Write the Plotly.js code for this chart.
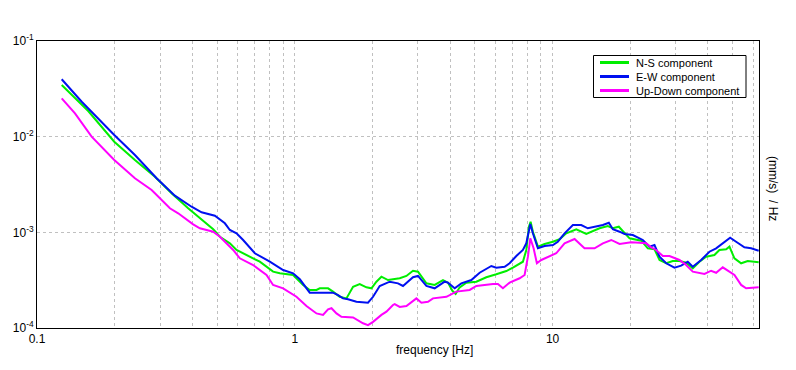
<!DOCTYPE html>
<html>
<head>
<meta charset="utf-8">
<script src="https://cdn.plot.ly/plotly-3.0.1.min.js"></script>
<style>html,body{margin:0;padding:0;background:#fff;}#chart{width:796px;height:370px;}</style>
</head>
<body>
<div id="chart"></div>
<script>
// N-S component
const nsFreq = [0.1247,0.1446,0.158,0.1994,0.2398,0.2867,0.3326,0.3858,0.4548,0.4825,0.5122,0.5599,0.5943,0.6693,0.7316,0.8239,0.8747,0.985,1.077,1.143,1.214,1.25,1.346,1.407,1.494,1.586,1.683,1.786,1.896,1.983,2.073,2.168,2.267,2.299,2.553,2.71,2.874,3.006,3.24,3.488,3.757,3.928,4.086,4.207,4.36,4.629,5.062,5.534,6.049,6.615,7.018,7.672,7.909,8.094,8.217,8.387,8.77,9.311,10.03,10.64,11.30,12.36,13.51,15.21,16.38,17.13,18.07,19.02,19.89,22.07,23.41,24.85,25.99,27.59,29.26,31.06,32.97,34.98,37.13,39.41,42.44,44.38,47.13,48.53,50.75,53.87,57.15,63.04];
const nsVal = [0.03467,0.0232,0.01855,0.00886,0.005703,0.003815,0.002559,0.001783,0.001243,0.001076,0.0009,0.000768,0.000654,0.000556,0.000493,0.000388,0.000373,0.000358,0.000282,0.00025,0.00025,0.00026,0.00026,0.00024,0.000212,0.000204,0.00027,0.000288,0.000266,0.00026,0.000305,0.000344,0.000323,0.000317,0.000331,0.00035,0.000397,0.000388,0.000293,0.000282,0.000317,0.000298,0.000245,0.000227,0.000266,0.000298,0.000305,0.000339,0.000364,0.000394,0.000427,0.000493,0.000654,0.001145,0.001291,0.001015,0.000708,0.000755,0.000798,0.000846,0.000977,0.001076,0.000961,0.001102,0.001165,0.001102,0.001145,0.000977,0.000866,0.000818,0.000681,0.000665,0.000514,0.000475,0.000502,0.000502,0.000482,0.000421,0.000493,0.000556,0.000579,0.000654,0.000665,0.000708,0.000535,0.000475,0.000502,0.000486];

// E-W component
const ewFreq = [0.1247,0.1491,0.1994,0.2398,0.2911,0.3426,0.3977,0.4349,0.4898,0.5356,0.5599,0.5943,0.6304,0.6998,0.8,0.901,0.985,1.046,1.143,1.407,1.472,1.539,1.609,1.734,1.923,2.012,2.135,2.335,2.514,2.629,2.874,3.006,3.24,3.488,3.814,3.928,4.171,4.427,4.841,5.213,5.786,6.049,6.516,6.813,7.234,7.672,7.909,8.094,8.196,8.387,8.77,9.311,10.03,10.48,11.13,11.99,12.92,13.70,14.33,15.67,16.53,17.13,18.19,19.02,20.47,22.39,23.77,24.85,25.99,27.59,29.71,31.53,33.45,34.98,37.70,40.59,43.10,45.72,48.84,51.52,55.48,58.91,63.04];
const ewVal = [0.0398,0.0232,0.01041,0.006433,0.003671,0.002415,0.001853,0.00162,0.001492,0.001243,0.001058,0.000977,0.000832,0.000604,0.000493,0.000404,0.000373,0.000323,0.000234,0.000234,0.000221,0.000204,0.0002,0.000188,0.000184,0.000212,0.000275,0.000305,0.000293,0.000275,0.000339,0.00035,0.000275,0.00026,0.000305,0.000298,0.00026,0.000293,0.000317,0.000378,0.000445,0.000427,0.000437,0.000475,0.000566,0.000654,0.000768,0.001058,0.001222,0.000977,0.000681,0.00072,0.000737,0.000798,0.000977,0.001193,0.001193,0.001102,0.001129,0.001193,0.001261,0.001076,0.001015,0.000961,0.000938,0.000832,0.000708,0.000737,0.000556,0.000475,0.000427,0.000448,0.000493,0.000437,0.000514,0.000627,0.000681,0.000768,0.000879,0.000798,0.000697,0.000681,0.000643];

// Up-Down component
const udFreq = [0.1247,0.1404,0.1629,0.1994,0.2398,0.2784,0.3277,0.3529,0.4035,0.4283,0.4825,0.5122,0.5767,0.612,0.6893,0.7767,0.8239,0.901,1.015,1.11,1.214,1.287,1.346,1.388,1.451,1.517,1.683,1.839,1.923,2.012,2.168,2.267,2.404,2.441,2.553,2.71,2.963,3.098,3.286,3.436,3.873,4.234,4.768,5.062,5.869,6.137,6.418,6.813,7.45,7.79,8.023,8.196,8.441,8.692,9.04,9.737,10.33,11.13,12.17,13.30,14.55,15.67,16.89,18.19,19.31,20.18,21.74,23.08,24.13,25.23,26.77,28.41,31.06,32.97,34.98,38.82,41.21,43.10,45.72,48.53,50.75,53.87,56.33,63.04];
const udVal = [0.02518,0.01755,0.009991,0.005703,0.003671,0.00277,0.001783,0.001581,0.001213,0.001102,0.001015,0.0009,0.000654,0.000535,0.000455,0.000358,0.000282,0.00026,0.000212,0.00017,0.000142,0.000137,0.000157,0.000161,0.000142,0.000131,0.000129,0.000112,0.000107,0.000116,0.000137,0.000148,0.000174,0.000178,0.000166,0.00017,0.000204,0.000184,0.000188,0.000204,0.000212,0.00024,0.00025,0.000275,0.000288,0.000288,0.00026,0.000298,0.000331,0.000358,0.000556,0.000866,0.000681,0.000475,0.000514,0.000566,0.000604,0.000768,0.000852,0.000681,0.000681,0.000768,0.000832,0.000755,0.000768,0.000787,0.000779,0.000768,0.000697,0.000654,0.000566,0.000566,0.000514,0.000455,0.000388,0.000367,0.000397,0.000378,0.000431,0.000388,0.000358,0.000282,0.00026,0.000266];

const seriesNames = ['N-S component','E-W component','Up-Down component'];
const seriesColors = ['#00ee00','#0010f0','#ff00ff'];

// tick labels and grid positions
const xTickVals = [0.1,1,10];
const xTickText = ['0.1','1','10'];
const xGridVals = [0.2,0.3,0.4,0.5,0.6,0.7,0.8,0.9,2,3,4,5,6,7,8,9,20,30,40,50,60];
const yTickVals = [1e-4,1e-3,1e-2,1e-1];
const yTickText = ['10<sup>-4</sup>','10<sup>-3</sup>','10<sup>-2</sup>','10<sup>-1</sup>'];

const font = 'Liberation Sans, Arial, sans-serif';
const W = 796, H = 370, L = 37, R = 37, T = 41, B = 42;
const pw = W - L - R, ph = H - T - B;
const px = v => (v - L) / pw;           // pixel -> paper x
const py = v => (H - B - v) / ph;       // pixel -> paper y

const traces = [[nsFreq,nsVal],[ewFreq,ewVal],[udFreq,udVal]].map((d,i)=>({
  x:d[0], y:d[1], type:'scatter', mode:'lines', name:seriesNames[i],
  line:{color:seriesColors[i], width:2}, showlegend:false
}));

// custom legend (compact, like the reference)
const legShapes = [{type:'rect', xref:'paper', yref:'paper', x0:px(593.5), x1:px(746), y0:py(97.5), y1:py(55.5),
  line:{color:'#000', width:1}, fillcolor:'#fff', layer:'above'}];
const legAnn = [];
seriesNames.forEach((n,i)=>{
  const yy = 62.5 + i*14;
  legShapes.push({type:'line', xref:'paper', yref:'paper', x0:px(600), x1:px(629), y0:py(yy), y1:py(yy),
    line:{color:seriesColors[i], width:3}, layer:'above'});
  legAnn.push({text:n, xref:'paper', yref:'paper', x:px(634), y:py(yy), xanchor:'left', yanchor:'middle',
    showarrow:false, font:{family:font, size:11, color:'#000'}});
});

const layout = {
  width:W, height:H,
  margin:{l:L, r:R, t:T, b:B},
  paper_bgcolor:'#fff', plot_bgcolor:'#fff',
  font:{family:font, size:12, color:'#000'},
  showlegend:false,
  xaxis:{type:'log', range:[-1, Math.log10(63.2)], tickmode:'array', tickvals:xTickVals, ticktext:xTickText,
    ticks:'', showgrid:true, gridcolor:'#c0c0c0', griddash:'3px,3px', gridwidth:1,
    minor:{tickmode:'array', tickvals:xGridVals, showgrid:true, gridcolor:'#c0c0c0', griddash:'3px,3px', gridwidth:1, ticks:''},
    showline:true, mirror:true, linecolor:'#000', linewidth:1, zeroline:false,
    tickfont:{family:font, size:12, color:'#000'}},
  yaxis:{type:'log', range:[-4,-1], tickmode:'array', tickvals:yTickVals, ticktext:yTickText, ticks:'',
    showgrid:true, gridcolor:'#c0c0c0', griddash:'3px,3px', gridwidth:1,
    showline:true, mirror:true, linecolor:'#000', linewidth:1, zeroline:false,
    tickfont:{family:font, size:12, color:'#000'}},
  shapes:legShapes,
  annotations:[
    {text:'frequency [Hz]', xref:'paper', yref:'paper', x:px(434), y:py(350), xanchor:'center', yanchor:'middle', showarrow:false, font:{family:font, size:12, color:'#000'}},
    {text:'(mm/s)  / Hz', xref:'paper', yref:'paper', x:px(773), y:py(188), xanchor:'center', yanchor:'middle', textangle:90, showarrow:false, font:{family:font, size:12, color:'#000'}}
  ].concat(legAnn)
};

Plotly.newPlot('chart', traces, layout, {displayModeBar:false, staticPlot:true});
</script>
</body>
</html>
